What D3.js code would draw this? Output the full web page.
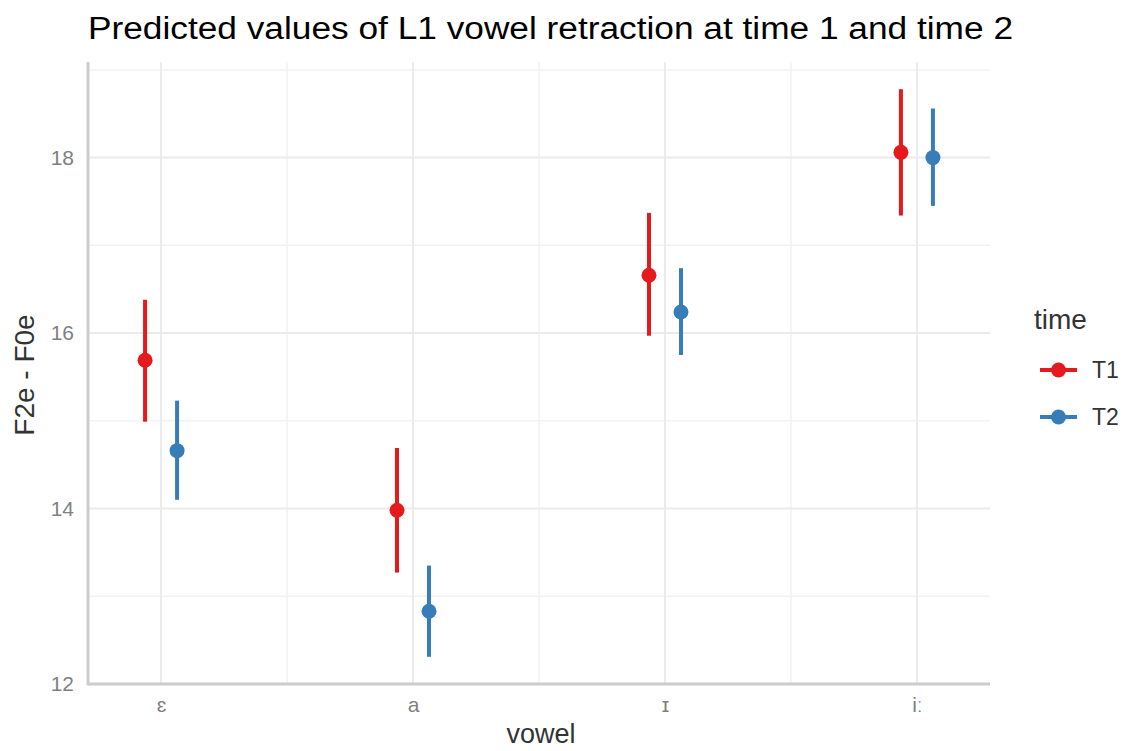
<!DOCTYPE html>
<html><head><meta charset="utf-8">
<script src="https://cdn.jsdelivr.net/npm/d3@7"></script>
<style>
body{margin:0;background:#fff;}
text{font-family:"Liberation Sans",Arial,sans-serif;}
</style></head>
<body><svg id="c" width="1131" height="751"></svg>
<script>
const vowels = ["ɛ", "a", "ɪ", "iː"];
const times = ["T1", "T2"];
const t1Pred  = [15.69, 13.98, 16.66, 18.06];
const t1Low   = [14.99, 13.27, 15.97, 17.34];
const t1High  = [16.38, 14.69, 17.37, 18.78];
const t2Pred  = [14.66, 12.83, 16.24, 18.00];
const t2Low   = [14.10, 12.31, 15.75, 17.45];
const t2High  = [15.23, 13.35, 16.74, 18.56];
const yTicks = [12, 14, 16, 18];
const yMinor = [13, 15, 17, 19];
const colors = ["#E41A1C", "#377EB8"];

const rows = [];
vowels.forEach((v,i)=>{
  rows.push({vowel:v,time:"T1",pred:t1Pred[i],lo:t1Low[i],hi:t1High[i]});
  rows.push({vowel:v,time:"T2",pred:t2Pred[i],lo:t2Low[i],hi:t2High[i]});
});

const svg = d3.select("#c");
const L=88, R=990, T=62, B=684;
const x = d3.scalePoint().domain(vowels).range([L,R]).padding(0.29);
const dodge = d3.scalePoint().domain(times).range([-16,16]);
const y = d3.scaleLinear().domain([12,19.09]).range([B,T]);
const color = d3.scaleOrdinal().domain(times).range(colors);

// grid
const g = svg.append("g");
const step = x.step();
g.selectAll(".ym").data(yMinor).join("line")
  .attr("x1",L).attr("x2",R).attr("y1",d=>y(d)).attr("y2",d=>y(d))
  .attr("stroke","#f2f2f2").attr("stroke-width",1.5);
g.selectAll(".xm").data(vowels.slice(0,-1)).join("line")
  .attr("x1",d=>x(d)+step/2).attr("x2",d=>x(d)+step/2).attr("y1",T).attr("y2",B)
  .attr("stroke","#f2f2f2").attr("stroke-width",1.5);
g.selectAll(".yM").data(yTicks).join("line")
  .attr("x1",L).attr("x2",R).attr("y1",d=>y(d)).attr("y2",d=>y(d))
  .attr("stroke","#ebebeb").attr("stroke-width",2);
g.selectAll(".xM").data(vowels).join("line")
  .attr("x1",d=>x(d)).attr("x2",d=>x(d)).attr("y1",T).attr("y2",B)
  .attr("stroke","#ebebeb").attr("stroke-width",2);

// axes lines
svg.append("line").attr("x1",L).attr("x2",L).attr("y1",T).attr("y2",B+1.5)
  .attr("stroke","#cccccc").attr("stroke-width",3);
svg.append("line").attr("x1",L).attr("x2",R).attr("y1",B).attr("y2",B)
  .attr("stroke","#cccccc").attr("stroke-width",3);

// axis tick labels via d3 axes
const yAxis = svg.append("g").attr("transform",`translate(${L},0)`)
  .call(d3.axisLeft(y).tickValues(yTicks).tickSize(0).tickPadding(14).tickFormat(d3.format("d")));
yAxis.select(".domain").remove();
yAxis.selectAll("text").attr("fill","#7f7f7f").style("font-size","21px").attr("font-family","Liberation Sans, Arial, sans-serif");
const xAxis = svg.append("g").attr("transform",`translate(0,${B})`)
  .call(d3.axisBottom(x).tickSize(0).tickPadding(13));
xAxis.select(".domain").remove();
xAxis.selectAll("text").attr("fill","#7f7f7f").style("font-size","21px").attr("font-family","DejaVu Sans, Liberation Sans, sans-serif");

// error bars & points
svg.selectAll(".eb").data(rows).join("line")
  .attr("x1",d=>x(d.vowel)+dodge(d.time)).attr("x2",d=>x(d.vowel)+dodge(d.time))
  .attr("y1",d=>y(d.lo)).attr("y2",d=>y(d.hi))
  .attr("stroke",d=>color(d.time)).attr("stroke-width",4);
svg.selectAll(".pt").data(rows).join("circle")
  .attr("cx",d=>x(d.vowel)+dodge(d.time)).attr("cy",d=>y(d.pred)).attr("r",7.5)
  .attr("fill",d=>color(d.time));

// titles
svg.append("text").attr("x",88).attr("y",39).attr("font-size",31).attr("fill","#000")
  .attr("textLength",925).attr("lengthAdjust","spacingAndGlyphs")
  .text("Predicted values of L1 vowel retraction at time 1 and time 2");
svg.append("text").attr("x",541).attr("y",743).attr("text-anchor","middle")
  .attr("font-size",27).attr("fill","#333").text("vowel");
svg.append("text").attr("transform",`translate(34,375) rotate(-90)`)
  .attr("text-anchor","middle").attr("font-size",28).attr("fill","#333").text("F2e - F0e");

// legend
const lg = svg.append("g");
lg.append("text").attr("x",1034).attr("y",329).attr("font-size",28).attr("fill","#333").text("time");
times.forEach((t,i)=>{
  const yy = 370 + i*47;
  lg.append("line").attr("x1",1040).attr("x2",1077).attr("y1",yy).attr("y2",yy)
    .attr("stroke",color(t)).attr("stroke-width",4);
  lg.append("circle").attr("cx",1058.5).attr("cy",yy).attr("r",7.5).attr("fill",color(t));
  lg.append("text").attr("x",1092).attr("y",yy+8).attr("font-size",23).attr("fill","#333").text(t);
});
</script></body></html>
